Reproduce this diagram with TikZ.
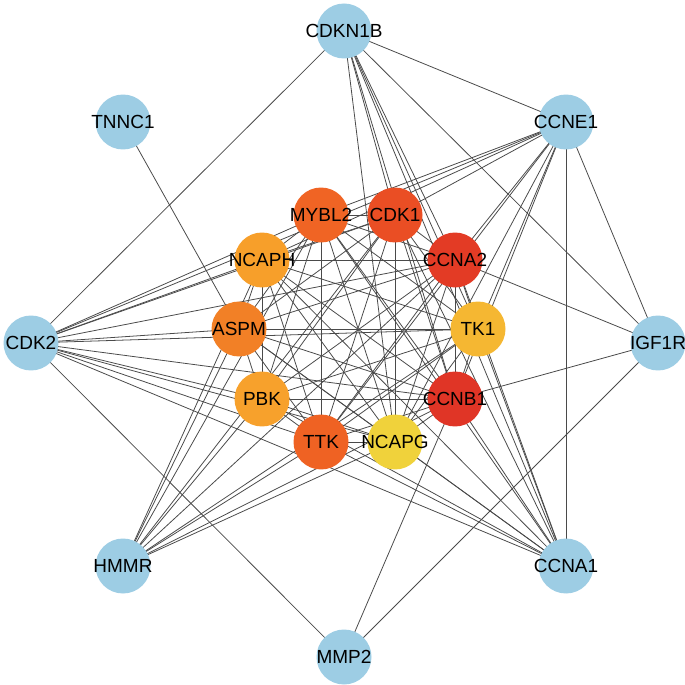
\documentclass[tikz,border=0pt]{standalone}
\usepackage{fontspec}
\setmainfont{Liberation Sans}
\usetikzlibrary{backgrounds}
\definecolor{outerc}{HTML}{9DCDE4}
\definecolor{cMYBL2}{HTML}{F06424}
\definecolor{cCDK1}{HTML}{EA4E24}
\definecolor{cNCAPH}{HTML}{F79F2A}
\definecolor{cCCNA2}{HTML}{E33B25}
\definecolor{cASPM}{HTML}{F28026}
\definecolor{cTK1}{HTML}{F5B732}
\definecolor{cPBK}{HTML}{F7A12C}
\definecolor{cCCNB1}{HTML}{E03526}
\definecolor{cTTK}{HTML}{EF6223}
\definecolor{cNCAPG}{HTML}{F0D23B}
\definecolor{edgec}{HTML}{4A4A4A}
\begin{document}
\begin{tikzpicture}[x=0.02cm,y=-0.02cm,
  gene/.style={circle,minimum size=1.1cm,inner sep=0pt},
  outer/.style={gene,fill=outerc},
  lab/.style={inner sep=0pt,text=black,font=\fontsize{10.8}{12}\selectfont},
  edge/.style={draw=edgec,line width=0.45pt}]
\useasboundingbox (0,0) rectangle (685,685);
% outer ring
\node[outer] (CDKN1B) at (344,31) {};
\node[outer] (TNNC1) at (123,122) {};
\node[outer] (CCNE1) at (566,122) {};
\node[outer] (CDK2) at (31,343) {};
\node[outer] (IGF1R) at (658,343) {};
\node[outer] (HMMR) at (123,566) {};
\node[outer] (CCNA1) at (566,566) {};
\node[outer] (MMP2) at (344,657) {};
% inner ring
\node[gene,fill=cMYBL2] (MYBL2) at (321,215) {};
\node[gene,fill=cCDK1] (CDK1) at (395,215) {};
\node[gene,fill=cNCAPH] (NCAPH) at (262,260) {};
\node[gene,fill=cCCNA2] (CCNA2) at (455,260) {};
\node[gene,fill=cASPM] (ASPM) at (239,329) {};
\node[gene,fill=cTK1] (TK1) at (478,329) {};
\node[gene,fill=cPBK] (PBK) at (262,399) {};
\node[gene,fill=cCCNB1] (CCNB1) at (455,399) {};
\node[gene,fill=cTTK] (TTK) at (321,442) {};
\node[gene,fill=cNCAPG] (NCAPG) at (395,442) {};
% labels on top
\foreach \g in {CDKN1B,TNNC1,CCNE1,CDK2,IGF1R,HMMR,CCNA1,MMP2,
  MYBL2,CDK1,NCAPH,CCNA2,ASPM,TK1,PBK,CCNB1,TTK,NCAPG}
  {\node[lab] (\g-label) at (\g.center) {\g};}
\begin{scope}[on background layer]
% inner clique
\foreach \a/\blist in {
  MYBL2/{CDK1,NCAPH,CCNA2,ASPM,TK1,PBK,CCNB1,TTK,NCAPG},
  CDK1/{NCAPH,CCNA2,ASPM,TK1,PBK,CCNB1,TTK,NCAPG},
  NCAPH/{CCNA2,ASPM,TK1,PBK,CCNB1,TTK,NCAPG},
  CCNA2/{ASPM,TK1,PBK,CCNB1,TTK,NCAPG},
  ASPM/{TK1,PBK,CCNB1,TTK,NCAPG},
  TK1/{PBK,CCNB1,TTK,NCAPG},
  PBK/{CCNB1,TTK,NCAPG},
  CCNB1/{TTK,NCAPG},
  TTK/{NCAPG}}
  {\foreach \b in \blist {\draw[edge] (\a.center) -- (\b.center);}}
% outer connections
\foreach \a/\blist in {
  CDKN1B/{CDK2,CCNE1,IGF1R,CCNA1,CDK1,CCNA2,TK1,CCNB1,NCAPG},
  CCNE1/{IGF1R,CCNA1,CDK2,MYBL2,NCAPH,CDK1,CCNA2,TK1,CCNB1,NCAPG,TTK},
  IGF1R/{CCNA2,CCNB1,MMP2},
  MMP2/{CDK2,CCNB1},
  TNNC1/{ASPM},
  CDK2/{MYBL2,CDK1,NCAPH,CCNA2,ASPM,TK1,CCNB1,PBK,NCAPG,TTK,CCNA1},
  HMMR/{ASPM,NCAPH,MYBL2,CDK1,PBK,TTK,NCAPG,CCNB1,TK1,CCNA2},
  CCNA1/{CDK1,CCNA2,TK1,CCNB1,NCAPG,TTK,PBK,ASPM,MYBL2,NCAPH}}
  {\foreach \b in \blist {\draw[edge] (\a.center) -- (\b.center);}}
\end{scope}
\end{tikzpicture}
\end{document}
